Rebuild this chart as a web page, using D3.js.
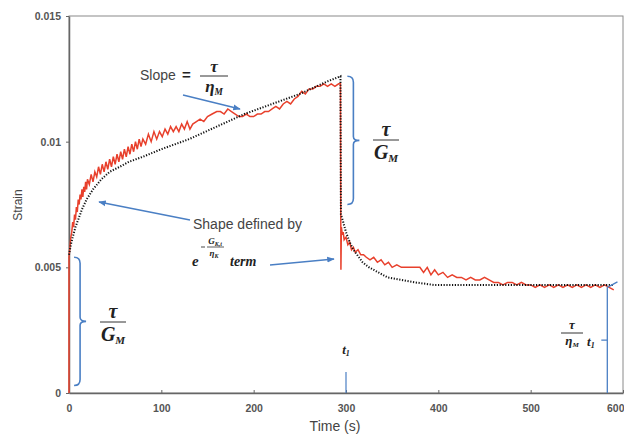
<!doctype html>
<html>
<head>
<meta charset="utf-8">
<script src="https://cdnjs.cloudflare.com/ajax/libs/d3/7.8.5/d3.min.js"></script>
<style>
  body { margin: 0; background: #fff; }
  svg text { font-family: "Liberation Sans", Arial, sans-serif; }
  .tick text { font-size: 10.5px; font-weight: bold; fill: #555; }
  .math { font-family: "Liberation Serif", "DejaVu Serif", serif; font-style: italic; font-weight: bold; fill: #222; }
</style>
</head>
<body>
<svg id="chart" width="624" height="436"></svg>
<script>
// measured strain (red)
var redTime = [0,0,1,2,3,4,5,6,7,8,9,10,11,12,13,14,15,16,17,18,19,20,22,24,26,28,30,32,34,36,38,40,42,44,46,48,50,52,54,56,58,60,62,64,66,68,70,72,74,76,78,80,83,86,89,92,95,98,101,104,107,110,113,116,119,122,125,128,131,134,
  138,142,146,150,155,160,164,168,172,176,180,184,188,192,196,200,204,208,212,216,220,224,228,232,236,240,244,248,252,256,260,264,268,272,276,280,284,288,292,294,
  294.5,295,296,297,298,300,302,304,306,308,310,313,316,319,322,326,330,334,338,342,346,350,355,360,365,370,375,380,384,388,392,396,400,405,410,415,420,425,430,435,440,445,450,455,460,465,470,475,480,485,490,495,500,505,510,515,520,525,530,535,540,545,550,555,560,565,570,575,580,585,590];
var redStrain = [0,0.0054,0.0058,0.0062,0.0064,0.0068,0.0066,0.0071,0.0069,0.0074,0.0072,0.0077,0.0075,0.0079,0.0077,0.0081,0.0078,0.0082,0.0080,0.0084,0.0081,0.0085,0.0083,0.0087,0.0084,0.0088,0.0086,0.0090,0.0087,0.0091,0.0088,0.0092,0.0089,0.0093,0.0090,0.0094,0.0091,0.0095,0.0092,0.0096,0.0093,0.0097,0.0094,0.0098,0.0095,0.0099,0.0096,0.0100,0.0097,0.0101,0.0098,0.0101,0.0099,0.0103,0.0100,0.0104,0.0101,0.0104,0.0102,0.0105,0.0103,0.0106,0.0104,0.0106,0.0104,0.0107,0.0105,0.0108,0.0105,0.0107,
  0.0108,0.0109,0.0108,0.0110,0.0111,0.0112,0.0112,0.0111,0.0113,0.0112,0.0111,0.0110,0.0110,0.0111,0.0110,0.0110,0.0111,0.0111,0.0112,0.0112,0.0113,0.0114,0.0113,0.0115,0.0116,0.0115,0.0117,0.0118,0.0120,0.0119,0.0121,0.0121,0.0122,0.0122,0.0123,0.0122,0.0123,0.0122,0.0123,0.0123,
  0.0049,0.0066,0.0063,0.0064,0.0061,0.0062,0.0059,0.0060,0.0057,0.0058,0.0056,0.0057,0.0055,0.0055,0.0054,0.0053,0.0054,0.0052,0.0053,0.0051,0.0052,0.0050,0.0051,0.0050,0.0050,0.0050,0.0050,0.0050,0.0048,0.0050,0.0047,0.0049,0.0047,0.0048,0.0046,0.0047,0.0046,0.0046,0.0045,0.0046,0.0045,0.0045,0.0046,0.0045,0.0044,0.0044,0.0043,0.0044,0.0044,0.0043,0.0044,0.0043,0.0043,0.0042,0.0043,0.0042,0.0043,0.0042,0.0043,0.0042,0.0043,0.0042,0.0043,0.0042,0.0043,0.0042,0.0043,0.0042,0.0043,0.0042,0.0041];

// model fit (black dotted)
var modelTime = [0,2,4,7,10,14,19,26,35,44,55,65,80,100,130,160,190,220,250,280,294,294.5,297,300,304,308,312,318,325,335,345,360,375,395,430,480,530,590];
var modelStrain = [0.0055,0.0059,0.0062,0.0066,0.0069,0.0073,0.0077,0.0081,0.0085,0.0088,0.0090,0.0092,0.0094,0.0097,0.0101,0.0106,0.0111,0.0115,0.0119,0.0124,0.0126,0.0071,0.0068,0.0064,0.0060,0.0057,0.0055,0.0052,0.0050,0.0048,0.0046,0.0045,0.0044,0.0043,0.0043,0.0043,0.0043,0.0043];

var xTicks = [0,100,200,300,400,500,600];
var yTicks = [0,0.005,0.01,0.015];
var yTickLabels = ["0","0.005","0.01","0.015"];

var svg = d3.select("#chart");
var x = d3.scaleLinear().domain([0,600]).range([69,623]);
var y = d3.scaleLinear().domain([0,0.015]).range([393,16]);
var blue = "#4a7fc4";

// frame
svg.append("rect").attr("x",x(0)).attr("y",y(0.015)).attr("width",x(600)-x(0)).attr("height",y(0)-y(0.015))
  .attr("fill","none").attr("stroke","#8a8a8a").attr("stroke-width",1);

var xAxis = d3.axisBottom(x).tickValues(xTicks).tickSizeInner(-3).tickSizeOuter(0).tickPadding(12);
var gx = svg.append("g").attr("transform","translate(0,"+y(0)+")").call(xAxis);
// last label sits at the window edge
gx.selectAll(".tick text").filter(d=>d===600).attr("text-anchor","end").attr("dx",1);
var yAxis = d3.axisLeft(y).tickValues(yTicks).tickFormat((d,i)=>yTickLabels[i]).tickSize(3).tickSizeOuter(0).tickPadding(5);
var gy = svg.append("g").attr("transform","translate("+x(0)+",0)").call(yAxis);
svg.selectAll(".domain").attr("stroke","#666").attr("stroke-width",1.5);
svg.selectAll(".tick line").attr("stroke","#666");

svg.append("text").attr("x",335).attr("y",431).attr("text-anchor","middle").attr("font-size",14).attr("fill","#444").text("Time (s)");
svg.append("text").attr("transform","translate(22,205) rotate(-90)").attr("text-anchor","middle").attr("font-size",12).attr("fill","#444").text("Strain");

// data lines
var redLine = d3.line().x((d,i)=>x(redTime[i])).y(d=>y(d));
svg.append("path").attr("d",redLine(redStrain)).attr("fill","none").attr("stroke","#e8402c").attr("stroke-width",1.5);
var modelLine = d3.line().x((d,i)=>x(modelTime[i])).y(d=>y(d));
svg.append("path").attr("d",modelLine(modelStrain))
  .attr("fill","none").attr("stroke","#111").attr("stroke-width",2).attr("stroke-dasharray","1.2 1.6");

// arrow marker
svg.append("defs").append("marker").attr("id","ah").attr("viewBox","0 0 10 10").attr("refX",9).attr("refY",5)
  .attr("markerWidth",5).attr("markerHeight",5).attr("orient","auto")
  .append("path").attr("d","M0,1 L10,5 L0,9 Z").attr("fill",blue);

function arrow(x1,y1,x2,y2){
  svg.append("line").attr("x1",x1).attr("y1",y1).attr("x2",x2).attr("y2",y2)
    .attr("stroke",blue).attr("stroke-width",1.5).attr("marker-end","url(#ah)");
}
function bracket(xs,y1,y2,dir){
  var ym=(y1+y2)/2, w=6*dir;
  svg.append("path").attr("d","M"+(xs-w)+","+y1+" Q"+xs+","+y1+" "+xs+","+(y1+6)+
     " L"+xs+","+(ym-4)+" Q"+xs+","+ym+" "+(xs+w)+","+ym+" Q"+xs+","+ym+" "+xs+","+(ym+4)+
     " L"+xs+","+(y2-6)+" Q"+xs+","+y2+" "+(xs-w)+","+y2)
    .attr("fill","none").attr("stroke",blue).attr("stroke-width",1.6);
}
function frac(cx,cy,top,bot,sub,size,w){
  var g=svg.append("g");
  g.append("line").attr("x1",cx-w/2).attr("x2",cx+w/2).attr("y1",cy).attr("y2",cy).attr("stroke","#333").attr("stroke-width",1);
  g.append("text").attr("class","math").attr("x",cx).attr("y",cy-4).attr("text-anchor","middle").attr("font-size",size).text(top);
  var t=g.append("text").attr("class","math").attr("x",cx).attr("y",cy+size*0.95).attr("text-anchor","middle").attr("font-size",size).text(bot);
  t.append("tspan").attr("font-size",size*0.55).attr("dy",size*0.15).text(sub);
  return g;
}

// slope annotation
svg.append("text").attr("x",140).attr("y",80).attr("font-size",14).attr("fill","#444").text("Slope");
svg.append("text").attr("x",182).attr("y",80).attr("font-size",15).attr("font-weight","bold").attr("fill","#222").text("=");
frac(214,76,"\u03c4","\u03b7","M",17,28);
arrow(183,95,240,109);

// bracket at unloading
bracket(x(308),y(0.0126),y(0.0075),1);
frac(386,140,"\u03c4","G","M",20,26);

// left bracket
bracket(x(12),y(0.0054),y(0.0003),1);
frac(113,322,"\u03c4","G","M",20,26);

// shape annotation
svg.append("text").attr("x",193).attr("y",229).attr("font-size",14).attr("fill","#444").text("Shape defined by");
arrow(190,220,99,202);
svg.append("text").attr("class","math").attr("x",192).attr("y",266).attr("font-size",15).text("e");
svg.append("line").attr("x1",201).attr("x2",205).attr("y1",247).attr("y2",247).attr("stroke","#333").attr("stroke-width",0.9);
svg.append("line").attr("x1",207).attr("x2",224).attr("y1",247).attr("y2",247).attr("stroke","#333").attr("stroke-width",0.8);
var gt=svg.append("text").attr("class","math").attr("x",215).attr("y",244).attr("text-anchor","middle").attr("font-size",9).text("G");
gt.append("tspan").attr("font-size",6).attr("dy",1.5).text("K,t");
var et=svg.append("text").attr("class","math").attr("x",214).attr("y",256).attr("text-anchor","middle").attr("font-size",9).text("\u03b7");
et.append("tspan").attr("font-size",6).attr("dy",1.5).text("K");
svg.append("text").attr("class","math").attr("x",230).attr("y",266).attr("font-size",14).text("term");
arrow(270,265,334,259);

// t1 marker
svg.append("text").attr("class","math").attr("x",x(300)).attr("y",354).attr("text-anchor","middle").attr("font-size",13).attr("font-weight","normal").attr("fill","#555")
  .text("t").append("tspan").attr("font-size",8).attr("dy",2).text("1");
svg.append("line").attr("x1",x(300)).attr("x2",x(300)).attr("y1",372).attr("y2",y(0)).attr("stroke",blue).attr("stroke-width",1.2);

// right bracket
svg.append("path").attr("d","M"+x(594)+","+(y(0.0043)-3)+" L"+x(583)+","+y(0.0042)+" L"+x(583)+","+y(0)+" M"+x(583)+","+y(0.0021)+" L"+(x(583)-6)+","+y(0.0021))
  .attr("fill","none").attr("stroke",blue).attr("stroke-width",1.3);
frac(572,333,"\u03c4","\u03b7","M",13,22);
svg.append("text").attr("class","math").attr("x",587).attr("y",346).attr("font-size",13).attr("font-weight","normal").text("t").append("tspan").attr("font-size",8).attr("dy",2).text("1");
</script>
</body>
</html>
